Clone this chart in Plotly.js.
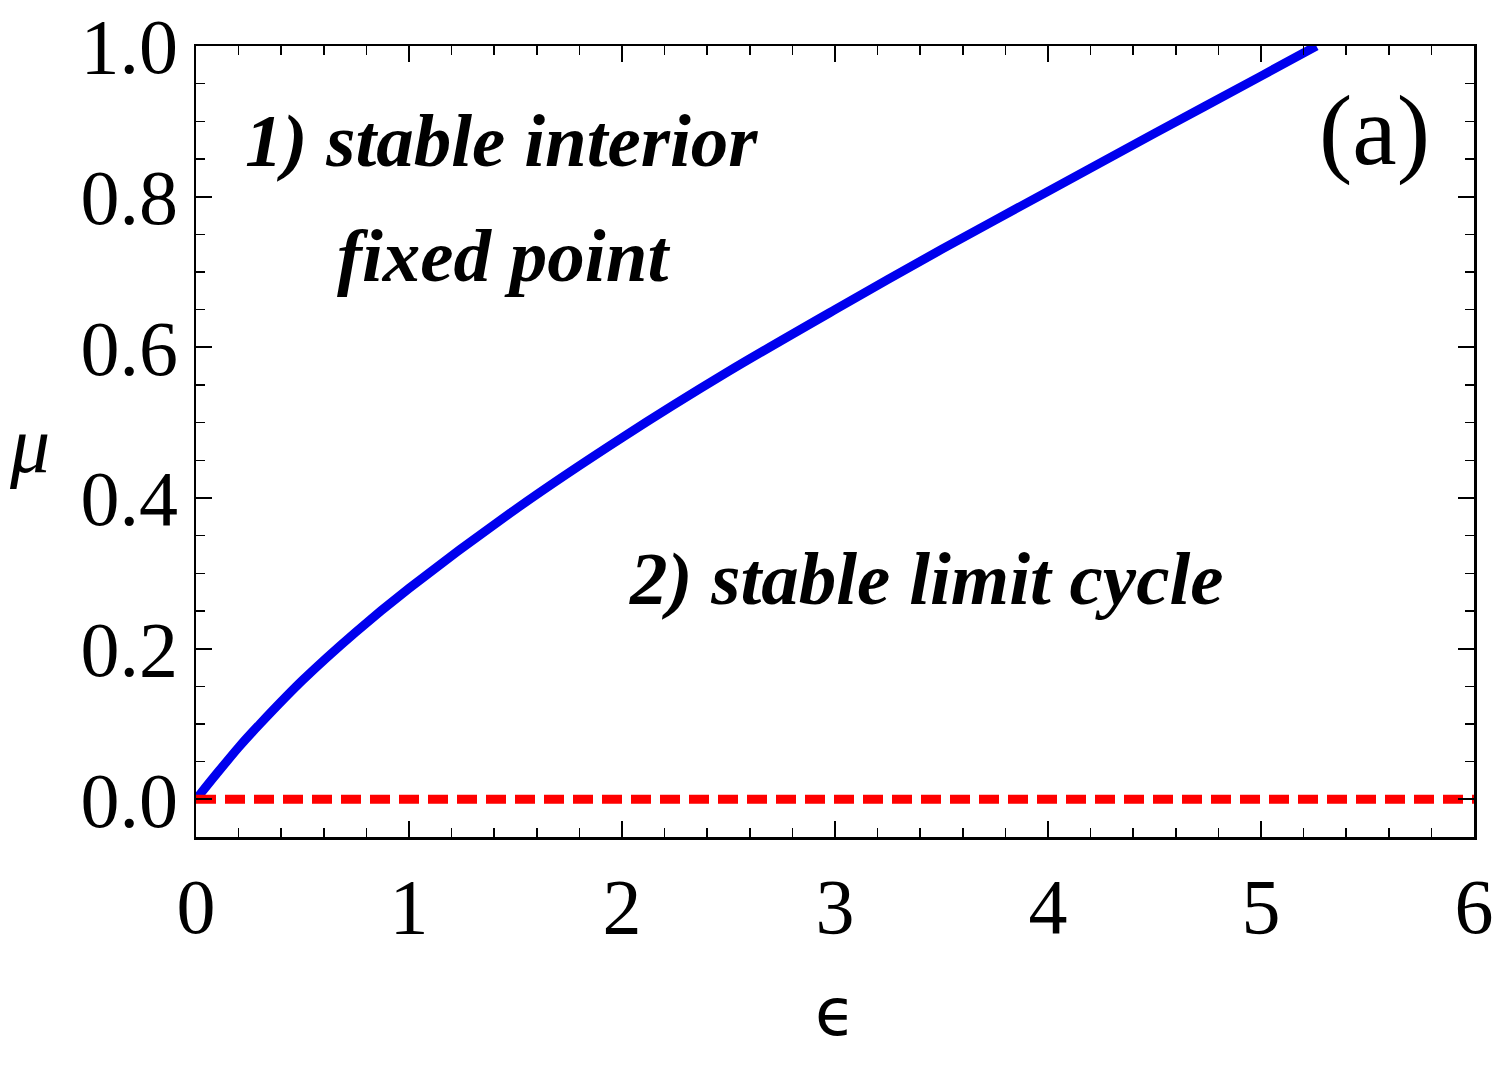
<!DOCTYPE html>
<html>
<head>
<meta charset="utf-8">
<script src="https://cdn.plot.ly/plotly-3.0.1.min.js"></script>
<style>html,body{margin:0;padding:0;background:#fff;}#plot{width:1500px;height:1067px;}</style>
</head>
<body>
<div id="plot"></div>
<script>
// Boundary curve (blue, solid)
const epsBoundary = [0, 0.1, 0.2, 0.3, 0.5, 0.75, 1.0, 1.5, 2.0, 2.5, 3.0, 3.5, 4.0, 4.5, 5.0, 5.26];
const muBoundary  = [0, 0.035, 0.069, 0.100, 0.158, 0.222, 0.280, 0.385, 0.480, 0.568, 0.650, 0.730, 0.807, 0.884, 0.960, 1.0];
// Zero line (red, dashed)
const epsZero = [0, 6];
const muZero  = [0, 0];
// Axis ticks
const xTicks = [0, 1, 2, 3, 4, 5, 6];
const xTickLabels = ["0", "1", "2", "3", "4", "5", "6"];
const yTicks = [0, 0.2, 0.4, 0.6, 0.8, 1.0];
const yTickLabels = ["0.0", "0.2", "0.4", "0.6", "0.8", "1.0"];

const serif = "Liberation Serif, Times New Roman, serif";

const traces = [
  {x: epsBoundary, y: muBoundary, mode: "lines", line: {color: "#0000ee", width: 9, shape: "spline", smoothing: 0.8}, hoverinfo: "skip"},
  {x: epsZero, y: muZero, mode: "lines", line: {color: "#ff0000", width: 9, dash: "20px,9px"}, hoverinfo: "skip"}
];

const axisCommon = {
  showgrid: false, zeroline: false, showline: true, linecolor: "#000", linewidth: 2.5,
  mirror: "allticks", ticks: "inside", ticklen: 16, tickwidth: 2, tickcolor: "#000",
  tickfont: {family: serif, size: 78, color: "#000"}
};

const layout = {
  width: 1500, height: 1067,
  margin: {l: 196, r: 26, t: 46, b: 230},
  paper_bgcolor: "#fff", plot_bgcolor: "#fff",
  showlegend: false,
  xaxis: Object.assign({}, axisCommon, {
    range: [0, 6], tickvals: xTicks, ticktext: xTickLabels,
    minor: {dtick: 0.2, ticks: "inside", ticklen: 9, tickwidth: 1.5, tickcolor: "#000"}
  }),
  yaxis: Object.assign({}, axisCommon, {
    range: [-0.05, 1.0], tickvals: yTicks, ticktext: yTickLabels,
    minor: {dtick: 0.05, ticks: "inside", ticklen: 9, tickwidth: 1.5, tickcolor: "#000"}
  }),
  annotations: [
    {text: "<b><i>1) stable interior</i></b>", xref: "paper", yref: "paper", x: (501 - 196) / 1278, y: (837 - 140) / 791, xanchor: "center", yanchor: "middle", showarrow: false, font: {family: serif, size: 75, color: "#000"}},
    {text: "<b><i>fixed point</i></b>", xref: "paper", yref: "paper", x: (503 - 196) / 1278, y: (837 - 255) / 791, xanchor: "center", yanchor: "middle", showarrow: false, font: {family: serif, size: 75, color: "#000"}},
    {text: "<b><i>2) stable limit cycle</i></b>", xref: "paper", yref: "paper", x: (926 - 196) / 1278, y: (837 - 578) / 791, xanchor: "center", yanchor: "middle", showarrow: false, font: {family: serif, size: 75, color: "#000"}},
    {text: "(a)", xref: "paper", yref: "paper", x: (1374 - 196) / 1278, y: (837 - 130) / 791, xanchor: "center", yanchor: "middle", showarrow: false, font: {family: serif, size: 100, color: "#000"}},
    {text: "<i>μ</i>", xref: "paper", yref: "paper", x: (29 - 196) / 1278, y: (837 - 445) / 791, xanchor: "center", yanchor: "middle", showarrow: false, font: {family: serif, size: 80, color: "#000"}},
    {text: "ϵ", xref: "paper", yref: "paper", x: 0.5, y: (837 - 1012) / 791, xanchor: "center", yanchor: "middle", showarrow: false, font: {family: "DejaVu Sans, sans-serif", size: 66, color: "#000"}}
  ]
};

Plotly.newPlot("plot", traces, layout, {staticPlot: true, displayModeBar: false});
</script>
</body>
</html>
